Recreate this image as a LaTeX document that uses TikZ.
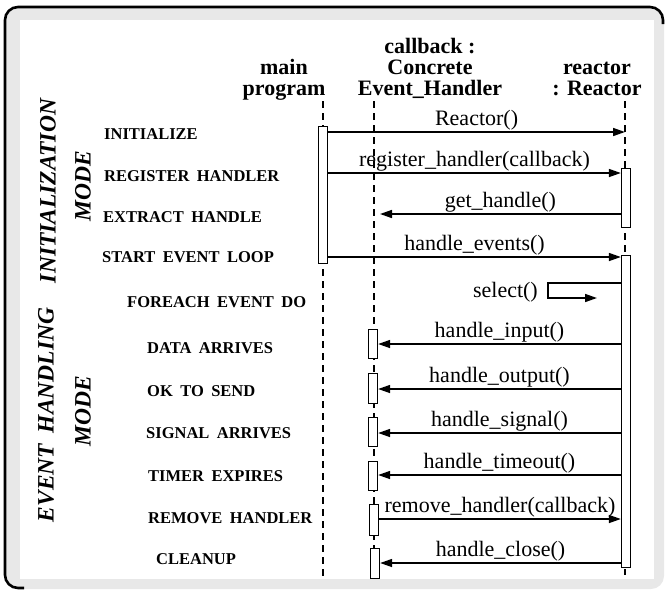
\documentclass[tikz,border=0pt]{standalone}
\usepackage{fontspec}
\setmainfont{Liberation Serif}
\newfontfamily\lblfont[WordSpace=1.8]{Liberation Serif}
\usetikzlibrary{arrows.meta}
\definecolor{framegray}{RGB}{232,232,232}
\begin{document}
\begin{tikzpicture}[x=1pt,y=-1pt,
  lifeline/.style={line width=1.3pt, dash pattern=on 7pt off 5pt},
  actbox/.style={draw, fill=white, line width=1.3pt, minimum width=9pt, inner sep=0pt, anchor=north},
  msg/.style={line width=1.6pt, -{Triangle[length=12pt,width=8pt]}},
  msglbl/.style={font=\fontsize{22}{22}\selectfont, inner sep=0pt, anchor=south, yshift=1pt},
  hdr/.style={font=\fontsize{22}{21}\selectfont\bfseries, inner sep=0pt, anchor=base},
  steplbl/.style={font=\lblfont\fontsize{16.5}{16.5}\selectfont\bfseries, inner sep=0pt, anchor=west},
  modelbl/.style={font=\lblfont\fontsize{23.5}{23.5}\selectfont\bfseries\itshape, inner sep=0pt, rotate=90}
]
\useasboundingbox (0,0) rectangle (665,590);
% frame
\fill[framegray, rounded corners=13pt] (5,6) rectangle (664,589);
\fill[white] (20,20) rectangle (654,579);
\draw[line width=2.6pt, rounded corners=13pt] (24,588) -- (5,588) -- (5,7) -- (663,7) -- (663,24);

% headers
\node[hdr] (hmain) at (284,74) {\begin{tabular}[t]{@{}c@{}}main\\program\end{tabular}};
\node[hdr] (hcb) at (430,53) {\begin{tabular}[t]{@{}c@{}}callback :\\Concrete\\Event\_Handler\end{tabular}};
\node[hdr] (hre) at (597,74) {\begin{tabular}[t]{@{}c@{}}reactor\\: Reactor\end{tabular}};

% mode labels
\node[modelbl] (initmode) at (48,191) {INITIALIZATION};
\node[modelbl] (initmode2) at (83,186) {MODE};
\node[modelbl] (evmode) at (46,415) {EVENT HANDLING};
\node[modelbl] (evmode2) at (83,411) {MODE};

% step labels
\node[steplbl] (s1) at (104,134) {INITIALIZE};
\node[steplbl] (s2) at (104,176) {REGISTER HANDLER};
\node[steplbl] (s3) at (103,217) {EXTRACT HANDLE};
\node[steplbl] (s4) at (102,257) {START EVENT LOOP};
\node[steplbl] (s5) at (127,302) {FOREACH EVENT DO};
\node[steplbl] (s6) at (147,348) {DATA ARRIVES};
\node[steplbl] (s7) at (147,391) {OK TO SEND};
\node[steplbl] (s8) at (146,433) {SIGNAL ARRIVES};
\node[steplbl] (s9) at (148,476) {TIMER EXPIRES};
\node[steplbl] (s10) at (148,518) {REMOVE HANDLER};
\node[steplbl] (s11) at (156,559) {CLEANUP};

% lifelines
\coordinate (mainTop) at (323,101);
\coordinate (mainBot) at (323,579);
\coordinate (cbTop) at (374,101);
\coordinate (cbBot) at (374,579);
\coordinate (reTop) at (625,101);
\coordinate (reBot) at (625,575);
\draw[lifeline] (mainTop) -- (mainBot);
\draw[lifeline] (cbTop) -- (cbBot);
\draw[lifeline] (reTop) -- (reBot);

% activation boxes
\node[actbox, minimum height=137pt] (mb) at (323,126) {};
\node[actbox, minimum height=59pt] (rb1) at (626,168) {};
\node[actbox, minimum height=312pt] (rb2) at (626,255) {};
\node[actbox, minimum height=29pt] (cb1) at (373,329) {};
\node[actbox, minimum height=30pt] (cb2) at (373,373) {};
\node[actbox, minimum height=29pt] (cb3) at (373,417) {};
\node[actbox, minimum height=29pt] (cb4) at (373,461) {};
\node[actbox, minimum height=31pt] (cb5) at (374,504) {};
\node[actbox, minimum height=30pt] (cb6) at (375,548) {};

% message rows
\coordinate (r1) at (0,132);
\coordinate (r2) at (0,173);
\coordinate (r3) at (0,214);
\coordinate (r4) at (0,257);
\coordinate (r5a) at (0,283);
\coordinate (r5b) at (0,298);
\coordinate (r6) at (0,344);
\coordinate (r7) at (0,389);
\coordinate (r8) at (0,433);
\coordinate (r9) at (0,475);
\coordinate (r10) at (0,519);
\coordinate (r11) at (0,563);
\coordinate (selL) at (548,0);
\coordinate (selR) at (597,0);

\draw[msg] (mb.east |- r1) -- (reTop |- r1) node[msglbl, midway] {Reactor()};
\draw[msg] (mb.east |- r2) -- (rb1.west |- r2) node[msglbl, midway] {register\_handler(callback)};
\draw[msg] (rb1.west |- r3) -- ([xshift=6pt]cbTop |- r3) node[msglbl, midway] {get\_handle()};
\draw[msg] (mb.east |- r4) -- (rb2.west |- r4) node[msglbl, midway] {handle\_events()};
\draw[msg] (rb2.west |- r5a) -- (selL |- r5a) -- (selL |- r5b) -- (selR |- r5b);
\node[font=\fontsize{22}{22}\selectfont, inner sep=0pt, anchor=base east] (sel) at (538,297) {select()};
\draw[msg] (rb2.west |- r6) -- (cb1.east |- r6) node[msglbl, midway] {handle\_input()};
\draw[msg] (rb2.west |- r7) -- (cb2.east |- r7) node[msglbl, midway] {handle\_output()};
\draw[msg] (rb2.west |- r8) -- (cb3.east |- r8) node[msglbl, midway] {handle\_signal()};
\draw[msg] (rb2.west |- r9) -- (cb4.east |- r9) node[msglbl, midway] {handle\_timeout()};
\draw[msg] (cb5.east |- r10) -- (rb2.west |- r10) node[msglbl, midway] {remove\_handler(callback)};
\draw[msg] (rb2.west |- r11) -- (cb6.east |- r11) node[msglbl, midway] {handle\_close()};
\end{tikzpicture}
\end{document}
